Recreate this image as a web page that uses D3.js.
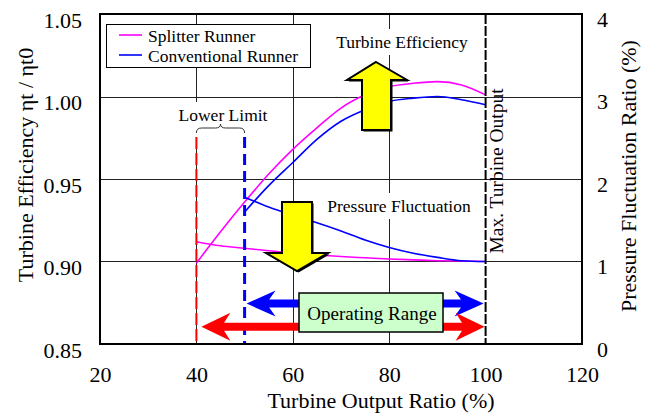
<!DOCTYPE html>
<html>
<head>
<meta charset="utf-8">
<script src="https://cdn.jsdelivr.net/npm/d3@7"></script>
<style>
  body { margin: 0; background: #fff; }
  svg text { font-family: "Liberation Serif", "Times New Roman", serif; fill: #000; }
</style>
</head>
<body>
<svg id="chart"></svg>
<script>
/* Data */

var outputRatio     = [40, 45, 50, 55, 60, 65, 70, 75, 80, 85, 90, 95, 100];
var splitterEff     = [0.899, 0.918, 0.936, 0.953, 0.968, 0.981, 0.993, 1.001, 1.006, 1.008, 1.009, 1.007, 1.001];
var splitterPress   = [1.24, 1.19, 1.16, 1.13, 1.10, 1.08, 1.06, 1.045, 1.03, 1.02, 1.01, 1.005, 1.00];

var convRatio       = [50, 55, 60, 65, 70, 75, 80, 85, 90, 95, 100];
var convEff         = [0.930, 0.946, 0.960, 0.974, 0.985, 0.992, 0.997, 0.999, 1.000, 0.998, 0.995];
var convPress       = [1.78, 1.66, 1.56, 1.47, 1.37, 1.26, 1.17, 1.10, 1.05, 1.01, 1.00];

var xTicks          = [20, 40, 60, 80, 100, 120];
var effTicks        = [0.85, 0.90, 0.95, 1.00, 1.05];
var pressTicks      = [0, 1, 2, 3, 4];

var lowerLimits     = [40, 50];   // splitter, conventional
var maxOutput       = 100;
var rangePress      = [0.21, 0.49]; // splitter (red), conventional (blue) arrow levels

var legendItems     = [{name: "Splitter Runner", color: "#ff00ff"},
                       {name: "Conventional Runner", color: "#0000ff"}];

/* Measures */

var W = 649,
    H = 414;

var PLOT = { left: 100, right: 582, top: 14, bottom: 344 };

var MAGENTA = "#ff00ff",
    BLUE    = "#0000ff",
    RED     = "#ff0000",
    YELLOW  = "#ffff00",
    GREEN   = "#ccffcc";

var svg = d3.select("#chart").attr("width", W).attr("height", H);

svg.append("rect").attr("width", W).attr("height", H).attr("fill", "#fff");

var x  = d3.scaleLinear().domain([20, 120]).range([PLOT.left, PLOT.right]);
var yL = d3.scaleLinear().domain([0.85, 1.05]).range([PLOT.bottom, PLOT.top]);
var yR = d3.scaleLinear().domain([0, 4]).range([PLOT.bottom, PLOT.top]);

/* Grid */

var grid = svg.append("g").attr("stroke", "#222").attr("stroke-width", 1);

grid.selectAll("line.h")
    .data(effTicks.slice(1, -1))
    .enter().append("line")
    .attr("x1", PLOT.left).attr("x2", PLOT.right)
    .attr("y1", function(d) { return Math.round(yL(d)) + 0.5; })
    .attr("y2", function(d) { return Math.round(yL(d)) + 0.5; });

grid.selectAll("line.v")
    .data([40, 60, 80])
    .enter().append("line")
    .attr("x1", function(d) { return Math.round(x(d)) + 0.5; })
    .attr("x2", function(d) { return Math.round(x(d)) + 0.5; })
    .attr("y1", PLOT.top).attr("y2", PLOT.bottom);

/* Labels with white backing */

function boxedText(cx, baseline, txt, size, pad) {
	var g = svg.append("g");
	var t = g.append("text")
		.attr("x", cx).attr("y", baseline)
		.attr("text-anchor", "middle")
		.style("font-size", size + "px")
		.text(txt);
	var bb = t.node().getBBox();
	g.insert("rect", "text")
		.attr("x", bb.x - pad).attr("y", bb.y - pad)
		.attr("width", bb.width + 2 * pad).attr("height", bb.height + 2 * pad)
		.attr("fill", "#fff");
	return g;
}

boxedText(402, 48, "Turbine Efficiency", 17.5, 3);
boxedText(399, 212, "Pressure Fluctuation", 17.5, 3);
var ll = boxedText(223, 121, "Lower Limit", 17.5, 3);
ll.select("rect").attr("height", 38);

// brace under "Lower Limit"
var bx0 = x(lowerLimits[0]), bx1 = x(lowerLimits[1]), bm = (bx0 + bx1) / 2;
svg.append("path")
    .attr("d", "M" + bx0 + ",133 Q" + bx0 + ",128 " + (bx0 + 5) + ",128 L" + (bm - 5) + ",128 Q" + bm + ",128 " + bm + ",124"
             + " Q" + bm + ",128 " + (bm + 5) + ",128 L" + (bx1 - 5) + ",128 Q" + bx1 + ",128 " + bx1 + ",133")
    .attr("fill", "none").attr("stroke", "#333").attr("stroke-width", 1);

/* Curves */

var lineEff = d3.line()
    .x(function(d) { return x(d[0]); })
    .y(function(d) { return yL(d[1]); })
    .curve(d3.curveMonotoneX);

var linePress = d3.line()
    .x(function(d) { return x(d[0]); })
    .y(function(d) { return yR(d[1]); })
    .curve(d3.curveMonotoneX);

var curves = svg.append("g").attr("fill", "none").attr("stroke-width", 1.6);

curves.append("path").attr("d", lineEff(d3.zip(outputRatio, splitterEff))).attr("stroke", MAGENTA);
curves.append("path").attr("d", linePress(d3.zip(outputRatio, splitterPress))).attr("stroke", MAGENTA);
curves.append("path").attr("d", lineEff(d3.zip(convRatio, convEff))).attr("stroke", BLUE);
curves.append("path").attr("d", linePress(d3.zip(convRatio, convPress))).attr("stroke", BLUE);

/* Limit lines */

svg.append("line")
    .attr("x1", x(lowerLimits[0])).attr("x2", x(lowerLimits[0]))
    .attr("y1", 137).attr("y2", PLOT.bottom)
    .attr("stroke", RED).attr("stroke-width", 2).attr("stroke-dasharray", "12,4");

svg.append("line")
    .attr("x1", x(lowerLimits[1])).attr("x2", x(lowerLimits[1]))
    .attr("y1", 137).attr("y2", PLOT.bottom)
    .attr("stroke", BLUE).attr("stroke-width", 3).attr("stroke-dasharray", "11,6");

svg.append("line")
    .attr("x1", x(maxOutput)).attr("x2", x(maxOutput))
    .attr("y1", PLOT.top).attr("y2", PLOT.bottom)
    .attr("stroke", "#000").attr("stroke-width", 2).attr("stroke-dasharray", "10,2");

svg.append("text")
    .attr("transform", "translate(503,171) rotate(-90)")
    .attr("text-anchor", "middle")
    .style("font-size", "19.5px")
    .text("Max. Turbine Output");

/* Yellow block arrows */

function blockArrow(pts) {
	svg.append("polygon")
		.attr("points", pts.map(function(p) { return (p[0] + 1.5) + "," + (p[1] + 1.5); }).join(" "))
		.attr("fill", "#000");
	svg.append("polygon")
		.attr("points", pts.map(function(p) { return p.join(","); }).join(" "))
		.attr("fill", YELLOW).attr("stroke", "#000").attr("stroke-width", 2)
		.attr("stroke-linejoin", "miter");
}

blockArrow([[376, 62], [407, 80], [391, 80], [391, 130], [362, 130], [362, 80], [347, 80]]);
blockArrow([[282, 202], [312, 202], [312, 253], [328, 253], [297, 271], [266, 253], [282, 253]]);

/* Operating range arrows */

function doubleArrow(x0, x1, y, color, L, Wd, t) {
	var n = L * 0.78;
	var pts = [[x0, y], [x0 + L, y - Wd], [x0 + n, y - t], [x1 - n, y - t], [x1 - L, y - Wd], [x1, y],
	           [x1 - L, y + Wd], [x1 - n, y + t], [x0 + n, y + t], [x0 + L, y + Wd]];
	svg.append("polygon")
		.attr("points", pts.map(function(p) { return p.join(","); }).join(" "))
		.attr("fill", color);
}

doubleArrow(x(lowerLimits[1]) + 2, x(maxOutput) - 2, yR(rangePress[1]), BLUE, 29, 13, 4);
doubleArrow(x(lowerLimits[0]) + 5, x(maxOutput) - 1, yR(rangePress[0]), RED, 29, 14, 4);

svg.append("rect")
    .attr("x", 299).attr("y", 293).attr("width", 144).attr("height", 39)
    .attr("fill", GREEN).attr("stroke", "#000").attr("stroke-width", 1.5);

svg.append("text")
    .attr("x", 372).attr("y", 320)
    .attr("text-anchor", "middle")
    .style("font-size", "19px")
    .text("Operating Range");

/* Legend */

var legend = svg.append("g");

legend.append("rect")
    .attr("x", 106.5).attr("y", 24.5).attr("width", 204).attr("height", 43)
    .attr("fill", "#fff").attr("stroke", "#000").attr("stroke-width", 1);

var li = legend.selectAll("g.item")
    .data(legendItems)
    .enter().append("g")
    .attr("transform", function(d, i) { return "translate(0," + (35 + i * 20) + ")"; });

li.append("line")
    .attr("x1", 119).attr("x2", 142)
    .attr("stroke", function(d) { return d.color; })
    .attr("stroke-width", 1.6);

li.append("text")
    .attr("x", 148).attr("y", 6.5)
    .style("font-size", "17.5px")
    .text(function(d) { return d.name; });

/* Frame */

svg.append("rect")
    .attr("x", PLOT.left).attr("y", PLOT.top)
    .attr("width", PLOT.right - PLOT.left).attr("height", PLOT.bottom - PLOT.top)
    .attr("fill", "none").attr("stroke", "#000").attr("stroke-width", 2);

/* Axes */

var axL = svg.append("g")
    .attr("transform", "translate(" + PLOT.left + ",0)")
    .call(d3.axisLeft(yL).tickValues(effTicks).tickSize(0).tickPadding(18).tickFormat(d3.format(".2f")));

var axB = svg.append("g")
    .attr("transform", "translate(0," + PLOT.bottom + ")")
    .call(d3.axisBottom(x).tickValues(xTicks).tickSize(0));

var axR = svg.append("g")
    .attr("transform", "translate(" + PLOT.right + ",0)")
    .call(d3.axisRight(yR).tickValues(pressTicks).tickSize(0).tickPadding(15).tickFormat(d3.format("d")));

[axL, axB, axR].forEach(function(a) {
	a.select(".domain").remove();
	a.attr("font-family", null).attr("font-size", null);
	a.selectAll("text").style("font-size", "22px");
});

axL.selectAll("text").attr("dy", 13);
axR.selectAll("text").attr("dy", 12);
axB.selectAll("text").attr("y", 38).attr("dy", null);

svg.append("text")
    .attr("x", 381).attr("y", 408)
    .attr("text-anchor", "middle")
    .style("font-size", "22px")
    .text("Turbine Output Ratio (%)");

svg.append("text")
    .attr("transform", "translate(33,165) rotate(-90)")
    .attr("text-anchor", "middle")
    .style("font-size", "22px")
    .text("Turbine Efficiency ηt / ηt0");

svg.append("text")
    .attr("transform", "translate(636,176) rotate(-90)")
    .attr("text-anchor", "middle")
    .style("font-size", "22px")
    .text("Pressure Fluctuation Ratio (%)");
</script>
</body>
</html>
